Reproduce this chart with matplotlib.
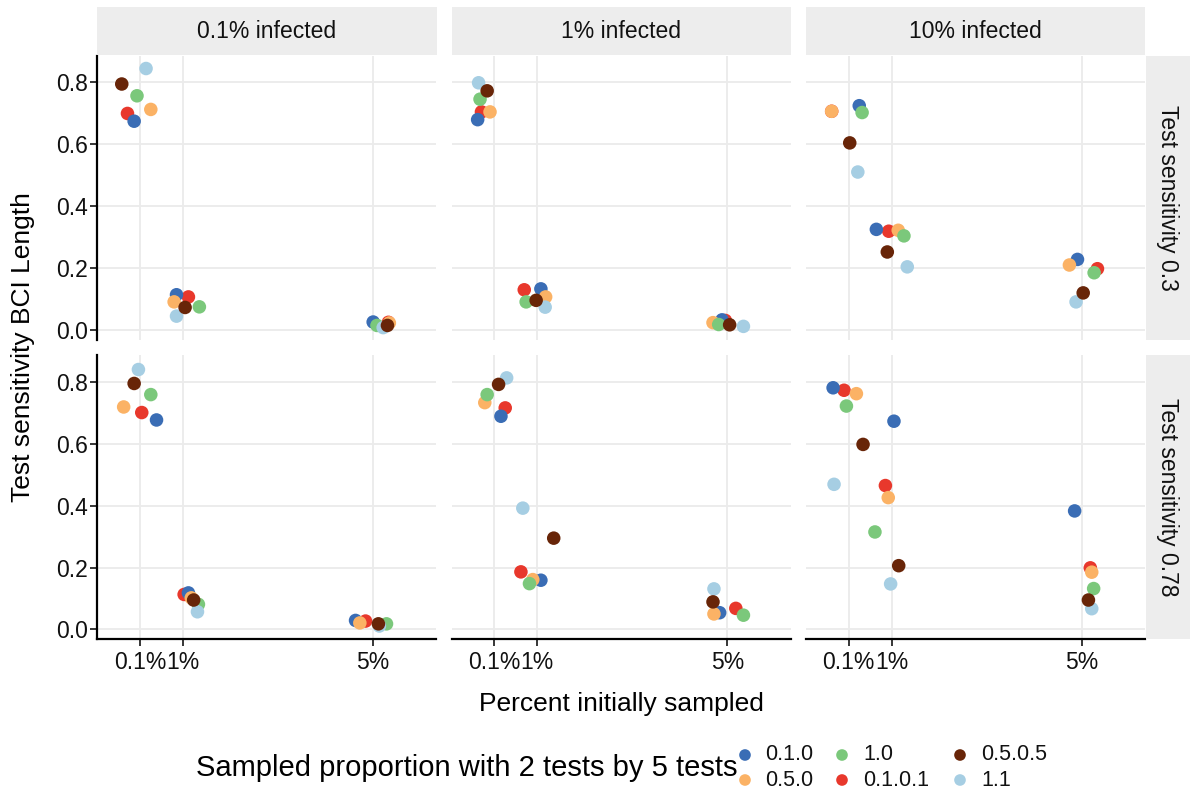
import matplotlib
matplotlib.use("Agg")
import matplotlib.pyplot as plt
from matplotlib.patches import Rectangle

plt.rcParams['font.family'] = ['Liberation Sans', 'DejaVu Sans']

# ---------------- data ----------------
infected_labels = ["0.1% infected", "1% infected", "10% infected"]
sensitivity_labels = ["Test sensitivity 0.3", "Test sensitivity 0.78"]
sampled = [0.1, 1, 5]
sampled_ticklabels = ["0.1%", "1%", "5%"]
groups = ["0.1.0", "0.5.0", "1.0", "0.1.0.1", "0.5.0.5", "1.1"]
colors = ["#3A6DB5", "#FBB265", "#7BC87B", "#E8382C", "#682508", "#A6CEE3"]

# order of 18 values: sensitivity (0.3, 0.78) x infected (0.1,1,10) x sampled (0.1,1,5)
bci_010 = [0.675, 0.115, 0.027, 0.680, 0.134, 0.034, 0.725, 0.326, 0.229,
           0.677, 0.118, 0.029, 0.689, 0.159, 0.054, 0.781, 0.673, 0.383]
bci_050 = [0.713, 0.092, 0.024, 0.705, 0.108, 0.025, 0.707, 0.323, 0.211,
           0.719, 0.102, 0.021, 0.733, 0.161, 0.050, 0.762, 0.426, 0.185]
bci_10 = [0.757, 0.076, 0.016, 0.746, 0.092, 0.019, 0.703, 0.305, 0.186,
          0.759, 0.081, 0.018, 0.759, 0.148, 0.046, 0.722, 0.315, 0.132]
bci_0101 = [0.700, 0.108, 0.026, 0.705, 0.131, 0.032, 0.707, 0.320, 0.199,
            0.701, 0.113, 0.027, 0.716, 0.186, 0.068, 0.773, 0.465, 0.199]
bci_0505 = [0.795, 0.074, 0.016, 0.773, 0.097, 0.018, 0.605, 0.253, 0.121,
            0.795, 0.095, 0.018, 0.792, 0.295, 0.089, 0.598, 0.206, 0.095]
bci_11 = [0.845, 0.046, 0.009, 0.799, 0.075, 0.013, 0.511, 0.205, 0.092,
          0.840, 0.057, 0.011, 0.813, 0.392, 0.131, 0.469, 0.147, 0.067]

# horizontal jitter (in x-axis units)
jit_010 = [-0.12, -0.13, 0.00, -0.35, 0.08, -0.11, 0.22, -0.32, -0.09,
           0.35, 0.12, -0.37, 0.14, 0.08, -0.16, -0.33, 0.05, -0.15]
jit_050 = [0.23, -0.18, 0.34, -0.09, 0.18, -0.30, -0.36, 0.14, -0.26,
           -0.34, 0.18, -0.28, -0.20, -0.09, -0.28, 0.16, -0.07, 0.21]
jit_10 = [-0.06, 0.35, 0.08, -0.30, -0.23, -0.18, 0.28, 0.26, 0.26,
          0.23, 0.33, 0.28, -0.15, -0.16, 0.34, -0.05, -0.35, 0.25]
jit_0101 = [-0.26, 0.12, 0.32, -0.27, -0.27, -0.04, -0.36, -0.06, 0.33,
            0.04, 0.03, -0.16, 0.23, -0.34, 0.18, -0.10, -0.13, 0.18]
jit_0505 = [-0.38, 0.05, 0.30, -0.15, -0.02, 0.05, 0.02, -0.09, 0.03,
            -0.12, 0.23, 0.11, 0.09, 0.35, -0.30, 0.30, 0.15, 0.14]
jit_11 = [0.13, -0.13, 0.21, -0.33, 0.17, 0.34, 0.19, 0.33, -0.12,
          -0.03, 0.31, 0.13, 0.26, -0.30, -0.28, -0.31, -0.02, 0.21]

bci_all = [bci_010, bci_050, bci_10, bci_0101, bci_0505, bci_11]
jit_all = [jit_010, jit_050, jit_10, jit_0101, jit_0505, jit_11]
draw_order = [3, 0, 1, 2, 5, 4]

y_ticks = [0.0, 0.2, 0.4, 0.6, 0.8]

# ---------------- layout ----------------
W, H = 1190, 796
fig = plt.figure(figsize=(W / 100, H / 100), dpi=100)


def fx(x):
    return x / W


def fy(y):
    return 1 - y / H


col_px = [(97, 436.5), (451.5, 790.5), (806, 1145)]
row_px = [(55.5, 340), (355, 639)]
strip_top = 6.5
strip_right = 1190

grid_col = "#EBEBEB"
strip_col = "#EDEDED"
txt_col = "#111111"

for r in range(2):
    for c in range(3):
        x0, x1 = col_px[c]
        y0, y1 = row_px[r]
        ax = fig.add_axes([fx(x0), fy(y1), fx(x1) - fx(x0), fy(y0) - fy(y1)])
        ax.set_xlim(-0.8, 6.33)
        ax.set_ylim(-0.031, 0.887)
        ax.set_xticks(sampled)
        ax.set_yticks(y_ticks)
        ax.grid(True, color=grid_col, linewidth=1.3)
        ax.set_axisbelow(True)
        for s in ax.spines.values():
            s.set_visible(False)
        ax.tick_params(length=4.8, width=1.1, color="black", labelsize=16.5,
                       labelcolor=txt_col)
        ax.tick_params(axis='y', pad=2)
        ax.tick_params(axis='x', pad=4)
        if c == 0:
            ax.spines['left'].set_visible(True)
            ax.spines['left'].set_linewidth(1.6)
            ax.set_yticklabels([f"{v:.1f}" for v in y_ticks])
        else:
            ax.tick_params(axis='y', left=False, labelleft=False)
        if r == 1:
            ax.spines['bottom'].set_visible(True)
            ax.spines['bottom'].set_linewidth(1.6)
            ax.set_xticklabels(sampled_ticklabels)
        else:
            ax.tick_params(axis='x', bottom=False, labelbottom=False)

        base = r * 9 + c * 3
        for g in draw_order:
            xs = [sampled[k] + jit_all[g][base + k] for k in range(3)]
            ys = [bci_all[g][base + k] for k in range(3)]
            ax.scatter(xs, ys, s=95, color=colors[g], edgecolors='none',
                       zorder=3, clip_on=False)

# overlay for strips, titles, legend
ov = fig.add_axes([0, 0, 1, 1])
ov.set_xlim(0, W)
ov.set_ylim(H, 0)
ov.axis('off')
ov.patch.set_alpha(0)

for c in range(3):
    x0, x1 = col_px[c]
    ov.add_patch(Rectangle((x0, strip_top), x1 - x0, 55 - strip_top,
                           facecolor=strip_col, edgecolor='none'))
    ov.text((x0 + x1) / 2, (strip_top + 55) / 2 + 1, infected_labels[c],
            ha='center', va='center', fontsize=16.5, color=txt_col)
for r in range(2):
    y0, y1 = row_px[r]
    ov.add_patch(Rectangle((1145.5, y0), strip_right - 1145.5, y1 - y0,
                           facecolor=strip_col, edgecolor='none'))
    ov.text(1168, (y0 + y1) / 2, sensitivity_labels[r], rotation=-90,
            ha='center', va='center', fontsize=16.5, color=txt_col)

ov.text(23, 347, "Test sensitivity BCI Length", rotation=90,
        ha='center', va='center', fontsize=19, color="black")
ov.text(621, 704, "Percent initially sampled", ha='center', va='center',
        fontsize=19, color="black")

# legend
ov.text(738, 768, "Sampled proportion with 2 tests by 5 tests", ha='right',
        va='center', fontsize=21, color="black")
leg_x = [745, 842, 960]
leg_tx = [765, 863, 981]
leg_y = [755, 780]
for i, g in enumerate(groups):
    cc, rr = divmod(i, 2)
    ov.scatter([leg_x[cc]], [leg_y[rr]], s=70, color=colors[i],
               edgecolors='none', clip_on=False)
    ov.text(leg_tx[cc], leg_y[rr], g, ha='left', va='center',
            fontsize=15.5, color=txt_col)

fig.savefig("out.png", dpi=100)
